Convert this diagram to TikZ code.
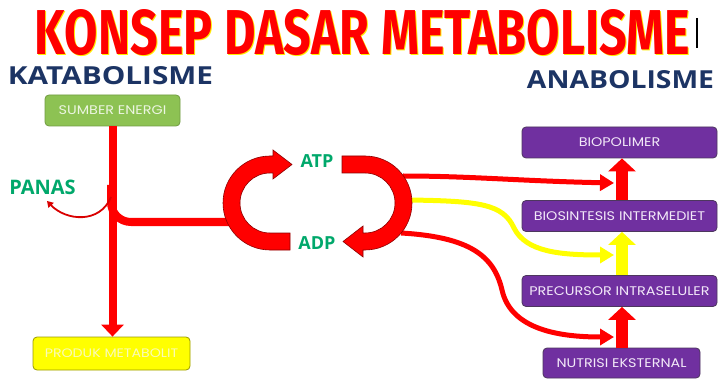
\documentclass[tikz,border=0pt]{standalone}
\usepackage{fontspec}
\usepackage{graphicx}
\setmainfont{Poppins}[FakeStretch=1.15]
\newfontfamily\headfont{Open Sans}
\newfontfamily\titlefont{Fira Sans}
\usetikzlibrary{arrows.meta}
\definecolor{kred}{RGB}{255, 0, 0}
\definecolor{kyellow}{RGB}{255, 255, 0}
\definecolor{knavy}{RGB}{28, 52, 100}
\definecolor{kteal}{RGB}{0, 168, 107}
\definecolor{kgreen}{RGB}{141, 194, 83}
\definecolor{kpurple}{RGB}{112, 48, 160}
\tikzstyle{gbox}=[rectangle,rounded corners=4pt,fill=kgreen,draw=kgreen!80!black,
  line width=0.8pt,minimum width=135pt,minimum height=31pt,
  text={rgb,255:red,236;green,245;blue,226},font=\fontsize{12.5}{14}\selectfont]
\tikzstyle{ybox}=[rectangle,rounded corners=4pt,fill=kyellow,draw=kyellow!60!black,
  line width=0.8pt,minimum width=157pt,minimum height=33pt,
  text={rgb,255:red,250;green,250;blue,185},font=\fontsize{12.3}{14}\selectfont]
\tikzstyle{pbox}=[rectangle,rounded corners=4pt,fill=kpurple,draw=kpurple!50!black!70!gray,
  line width=0.8pt,minimum width=195pt,minimum height=31pt,
  text={rgb,255:red,242;green,232;blue,248},font=\fontsize{12.5}{14}\selectfont]
\tikzstyle{lbl}=[inner sep=0pt,text=kteal,font=\headfont\bfseries\fontsize{18}{20}\selectfont]
\tikzstyle{head}=[inner sep=0pt,text=knavy,font=\headfont\bfseries]
\tikzstyle{flow}=[line width=5pt,-{Triangle[length=14pt,width=16pt]}]
\tikzstyle{block}=[line width=12pt,-{Triangle[length=13pt,width=27pt]}]
\tikzstyle{cycle}=[fill=kred,draw=kred!55!black,line width=0.6pt]

\begin{document}
\begin{tikzpicture}[x=1pt, y=-1pt]
    \useasboundingbox[fill=white] (0,0) rectangle (719,379);
    % title
    \node [inner sep=0pt, text=kyellow!85!orange] (titleshade) at (363.5, 33.5)
        {\resizebox{655pt}{45pt}{\titlefont\bfseries KONSEP DASAR METABOLISME}};
    \node [inner sep=0pt, text=kred] (title) at (362.5, 32.5)
        {\resizebox{655pt}{45pt}{\titlefont\bfseries KONSEP DASAR METABOLISME}};
    \draw [line width=2pt] (697,18) -- (697,48);
    \node [style=head] (kat) at (110.5, 75.5) {\resizebox{205pt}{18pt}{KATABOLISME}};
    \node [style=head] (ana) at (620.5, 79.5) {\resizebox{187pt}{18pt}{ANABOLISME}};
    % katabolisme
    \node [style=gbox] (se) at (112.5, 110.5) {SUMBER ENERGI};
    \node [style=ybox] (pm) at (111.5, 353.5) {PRODUK METABOLIT};
    \node [style=lbl, font=\headfont\bfseries\fontsize{20}{22}\selectfont] (panas) at (42.5, 187) {PANAS};
    \coordinate (ht) at (111, 197);
    \coordinate (ph) at (47, 201);
    \coordinate (br) at (111, 185);
    \coordinate (jn) at (232, 222);
    \draw [kred, line width=8pt, rounded corners=20pt] (br) |- (jn);
    \draw [kred, line width=8pt, -{Triangle[length=12pt,width=22pt]}] (se.south) -- (se.south |- pm.north);
    \draw [kred!85!black, line width=1.8pt, -{Triangle[length=6pt,width=7pt]}]
        (ht) .. controls (100,224) and (66,221) .. (ph);
    % atp / adp
    \node [style=lbl] (atp) at (317, 161.5) {ATP};
    \node [style=lbl] (adp) at (317, 243.5) {ADP};
    \coordinate (a1) at (403, 176);
    \coordinate (a2) at (409, 200);
    \coordinate (a3) at (401, 233);
    % anabolisme
    \node [style=pbox] (bp) at (619.5, 142.5) {BIOPOLIMER};
    \node [style=pbox] (bi) at (619.5, 216) {BIOSINTESIS INTERMEDIET};
    \node [style=pbox] (pi) at (619.5, 291) {PRECURSOR INTRASELULER};
    \node [style=pbox, minimum width=157pt, minimum height=30pt] (ne) at (621.5, 363) {NUTRISI EKSTERNAL};
    \coordinate (e1) at (614, 183);
    \coordinate (e2) at (614, 255);
    \coordinate (e3) at (614, 337);
    \draw [style=flow, kred] (a1) .. controls (470,176) and (520,181) .. (e1);
    \draw [style=flow, kyellow] (a2) .. controls (480,201) and (503,204) .. (514,228)
        .. controls (526,252) and (560,255) .. (e2);
    \draw [style=flow, kred] (a3) .. controls (470,237) and (494,256) .. (502,290)
        .. controls (511,330) and (560,337) .. (e3);
    \draw [style=block, kred] ([xshift=2.5pt]bi.north) -- ([xshift=2.5pt]bp.south);
    \draw [style=block, kyellow] ([xshift=2.5pt]pi.north) -- ([xshift=2.5pt]bi.south);
    \draw [style=block, kred] ([xshift=0.5pt]ne.north) -- ([xshift=2.5pt]pi.south);
    % cycle arrows
    \filldraw [style=cycle] (290,250) -- (270,250) arc[start angle=90, end angle=270, radius=47]
        -- (273,156) -- (273,150) -- (292,164.5) -- (273,179) -- (273,173) -- (270,173)
        arc[start angle=270, end angle=90, radius=30] -- (290,233) -- cycle;
    \filldraw [style=cycle] (342,156) -- (365,156) arc[start angle=-90, end angle=90, radius=47]
        -- (363,250) -- (363,257) -- (343,241.5) -- (363,226) -- (363,233) -- (365,233)
        arc[start angle=90, end angle=-90, radius=30] -- (342,173) -- cycle;
    \end{tikzpicture}
\end{document}
